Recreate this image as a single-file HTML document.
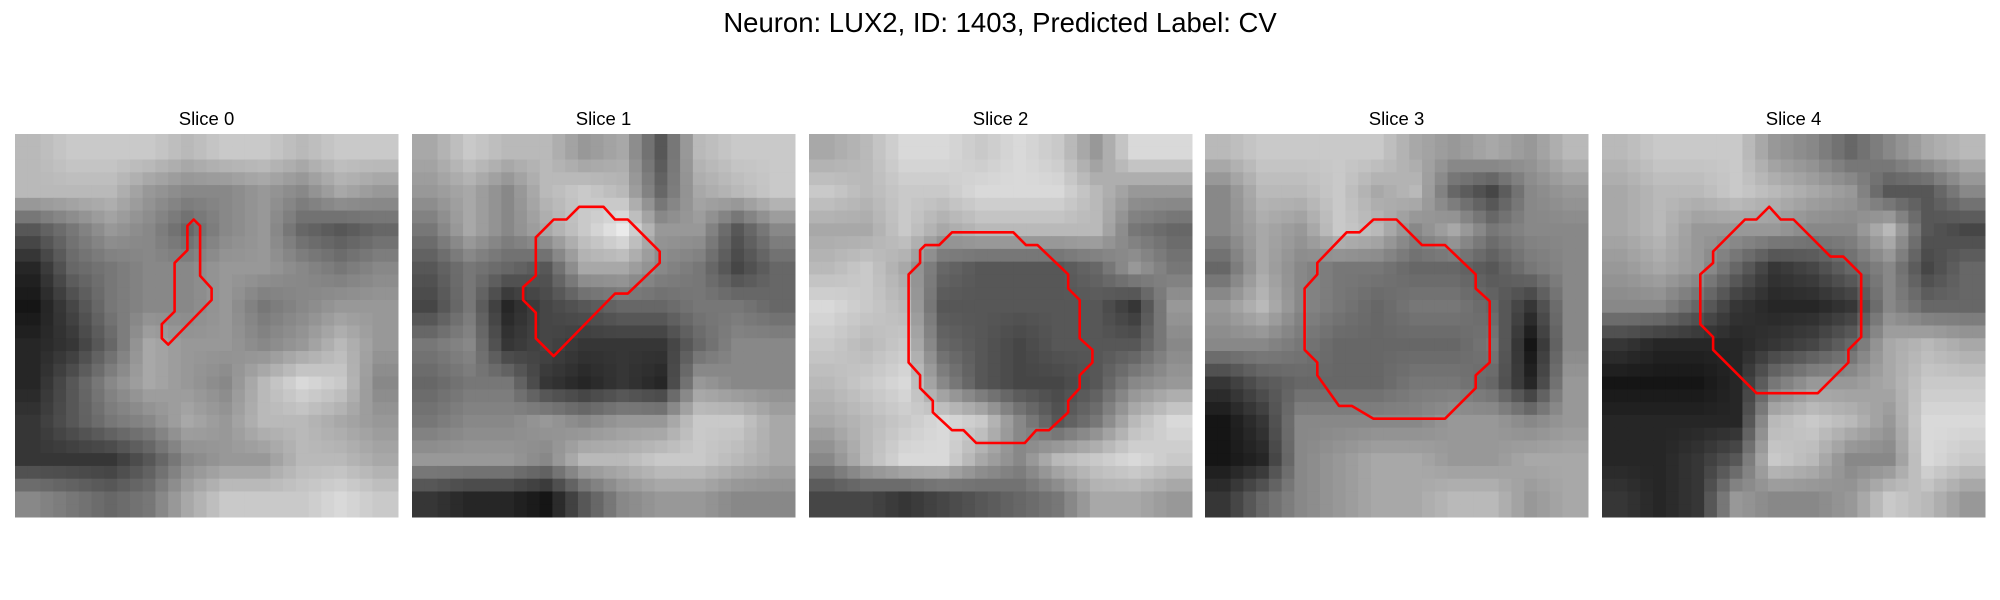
<!DOCTYPE html>
<html><head><meta charset="utf-8"><style>
html,body{margin:0;padding:0;background:#fff;width:2000px;height:600px;overflow:hidden}
svg{display:block;font-family:"Liberation Sans","DejaVu Sans",sans-serif}
</style></head><body>
<svg id="fig" width="2000" height="600" viewBox="0 0 2000 600">
<text x="1000" y="32" text-anchor="middle" font-size="27.5" fill="#000">Neuron: LUX2, ID: 1403, Predicted Label: CV</text>
</svg>
<script>
const sliceTitles = ["Slice 0","Slice 1","Slice 2","Slice 3","Slice 4"];
const grid0 = ["bcccbccbcc","bbb98898a9","5798689656","2678899878","1478897899","236a9989b9","258a98bdc8","3578a9bba9","3335899bba","8767acccdc"];
const grid1 = ["acbb9a5bcc","9a8bcb6abc","7a8ace9958","5765aa8746","4724566776","7834333688","6773232988","7889899cca","9998bbccba","3221589988"];
const grid2 = ["abddcdc9dd","cbccdddb99","aacabbbb76","bca6555697","dcb5555539","cbc6545558","bcd8544589","abcdc857bd","8bdda8bcdc","4434567aa9"];
const grid3 = ["bcccca9a9b","8bbcab6489","8a9cb8a788","6a87766578","9b87677638","8876666718","3566677629","1388889989","1289aa99aa","3689aabb9a"];
const grid4 = ["bccc9868ab","abbcba9558","ab99988b54","9a96346846","8863223866","3222346aba","1112799acc","2222bcb9dd","2235cb88dc","3239889cb9"];
const grids = [grid0,grid1,grid2,grid3,grid4];
const contour0 = [[14.0,6.7],[14.5,7.2],[14.5,11.1],[15.4,12.1],[15.4,13.0],[12.0,16.5],[11.5,16.0],[11.5,14.9],[12.5,13.9],[12.5,10.1],[13.5,9.1],[13.5,7.2]];
const contour1 = [[13.1,5.7],[15.0,5.7],[15.9,6.7],[16.9,6.7],[19.4,9.2],[19.4,10.1],[16.9,12.5],[15.9,12.5],[11.1,17.4],[9.7,16.0],[9.7,14.0],[8.7,13.0],[8.7,12.0],[9.7,11.1],[9.7,8.1],[11.1,6.7],[12.1,6.7]];
const contour2 = [[11.2,7.7],[16.0,7.7],[17.0,8.7],[17.9,8.7],[20.3,11.0],[20.3,12.1],[21.2,13.0],[21.2,16.0],[22.2,16.9],[22.2,17.9],[21.2,18.9],[21.2,19.9],[20.3,20.9],[20.3,21.8],[18.8,23.2],[17.8,23.2],[16.9,24.2],[13.1,24.2],[12.1,23.2],[11.2,23.2],[9.7,21.8],[9.7,20.9],[8.7,19.9],[8.7,18.9],[7.8,17.9],[7.8,11.0],[8.7,10.1],[8.7,9.1],[9.1,8.7],[10.2,8.7]];
const contour3 = [[13.2,6.7],[15.0,6.7],[17.0,8.7],[18.8,8.7],[21.2,11.0],[21.2,12.1],[22.3,13.1],[22.3,17.9],[21.2,18.9],[21.2,19.9],[18.8,22.3],[13.2,22.3],[11.5,21.3],[10.5,21.3],[8.8,18.9],[8.8,17.9],[7.8,16.9],[7.8,12.1],[8.8,11.0],[8.8,10.1],[11.1,7.7],[12.1,7.7]];
const contour4 = [[13.1,5.7],[14.0,6.7],[15.0,6.7],[17.9,9.6],[18.9,9.6],[20.3,11.0],[20.3,15.9],[19.3,16.9],[19.3,17.9],[16.9,20.3],[12.1,20.3],[8.7,16.9],[8.7,15.9],[7.7,14.9],[7.7,11.0],[8.7,10.1],[8.7,9.2],[11.2,6.7],[12.1,6.7]];
const contours = [contour0,contour1,contour2,contour3,contour4];

const NS = "http://www.w3.org/2000/svg";
const svg = document.getElementById("fig");
const panelX = [15,412,809,1205,1602], panelY = 134, panelW = 383;
const units = 30;
function mk(tag, attrs, parent){ const e=document.createElementNS(NS,tag); for(const k in attrs) e.setAttribute(k,attrs[k]); parent.appendChild(e); return e; }
function sample(g, fy, fx){
  const rows=g.length, cols=g[0].length;
  const y=Math.min(Math.max(fy,0),rows-1), x=Math.min(Math.max(fx,0),cols-1);
  const y0=Math.floor(y), x0=Math.floor(x), y1=Math.min(y0+1,rows-1), x1=Math.min(x0+1,cols-1);
  const dy=y-y0, dx=x-x0;
  const v=(r,c)=>parseInt(g[r][c],16);
  return v(y0,x0)*(1-dy)*(1-dx)+v(y0,x1)*(1-dy)*dx+v(y1,x0)*dy*(1-dx)+v(y1,x1)*dy*dx;
}

grids.forEach((g, p) => {
  const x0 = panelX[p];
  const grp = mk("g", {}, svg);
  
  
  const t = mk("text", {x: x0 + panelW/2, y: 125, "text-anchor":"middle", "font-size":"18.5", fill:"#000"}, grp);
  t.textContent = sliceTitles[p];
  
  
  const img = mk("g", {}, grp);
  
  
  const rows = g.length, cols = g[0].length;
  const cw = panelW/units;
  for (let r=0;r<units;r++) for (let c=0;c<units;c++) {
    const fy=(r+0.5)*rows/units-0.5, fx=(c+0.5)*cols/units-0.5;
    const val=sample(g,fy,fx);
    const v = Math.round(val/15*245)+5;
    const hx = v.toString(16).padStart(2,"0");
    mk("rect", {x:(x0+c*cw).toFixed(2), y:(panelY+r*cw).toFixed(2), width:(cw+0.5).toFixed(2), height:(cw+0.5).toFixed(2), fill:"#"+hx+hx+hx}, img);
  }
  const s = panelW/units;
  const pts = contours[p].map(([u,v]) => (x0+u*s).toFixed(1)+","+(panelY+v*s).toFixed(1)).join(" ");
  const poly = mk("polygon", {points: pts, fill:"none", stroke:"#ff0000", "stroke-width":"2.6", "stroke-linejoin":"round"}, grp);
  
  
});
</script>
</body></html>
